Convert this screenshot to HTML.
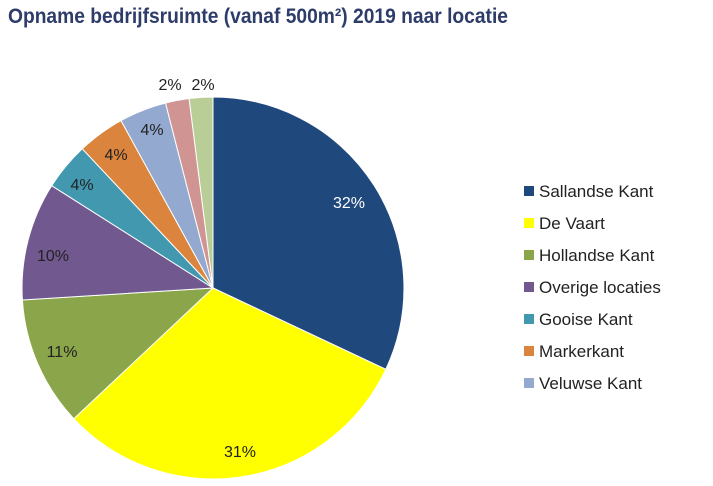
<!DOCTYPE html>
<html><head><meta charset="utf-8"><style>
html,body{margin:0;padding:0;background:#fff;}
svg{display:block;}
</style></head><body>
<svg width="713" height="486" xmlns="http://www.w3.org/2000/svg" font-family="Liberation Sans, sans-serif">
<text x="8" y="23" font-size="21" font-weight="bold" fill="#2E3C6A" textLength="500" lengthAdjust="spacingAndGlyphs">Opname bedrijfsruimte (vanaf 500m²) 2019 naar locatie</text>
<g stroke="#fff" stroke-width="1">
<path d="M213,288 L213,97 A191,191 0 0 1 385.8,369.3 Z" fill="#1F497D"/>
<path d="M213,288 L385.8,369.3 A191,191 0 0 1 73.8,418.7 Z" fill="#FFFF00"/>
<path d="M213,288 L73.8,418.7 A191,191 0 0 1 22.4,300.0 Z" fill="#8BA54A"/>
<path d="M213,288 L22.4,300.0 A191,191 0 0 1 51.7,185.7 Z" fill="#71588F"/>
<path d="M213,288 L51.7,185.7 A191,191 0 0 1 82.3,148.8 Z" fill="#4198AF"/>
<path d="M213,288 L82.3,148.8 A191,191 0 0 1 121.0,120.6 Z" fill="#DB843D"/>
<path d="M213,288 L121.0,120.6 A191,191 0 0 1 165.5,103.0 Z" fill="#93A9CF"/>
<path d="M213,288 L165.5,103.0 A191,191 0 0 1 189.1,98.5 Z" fill="#D09493"/>
<path d="M213,288 L189.1,98.5 A191,191 0 0 1 213,97 Z" fill="#B9CD96"/>
</g>
<g font-size="16" fill="#222" text-anchor="middle">
<text x="349" y="208" fill="#fff">32%</text>
<text x="240" y="457">31%</text>
<text x="62" y="357">11%</text>
<text x="53" y="261">10%</text>
<text x="82" y="190">4%</text>
<text x="116" y="160">4%</text>
<text x="152" y="135">4%</text>
<text x="170" y="90">2%</text>
<text x="203" y="90">2%</text>
</g>
<g font-size="17" fill="#222">
<rect x="524" y="186" width="10" height="10" fill="#1F497D"/><text x="539" y="197">Sallandse Kant</text>
<rect x="524" y="218" width="10" height="10" fill="#FFFF00"/><text x="539" y="229">De Vaart</text>
<rect x="524" y="250" width="10" height="10" fill="#8BA54A"/><text x="539" y="261">Hollandse Kant</text>
<rect x="524" y="282" width="10" height="10" fill="#71588F"/><text x="539" y="293">Overige locaties</text>
<rect x="524" y="314" width="10" height="10" fill="#4198AF"/><text x="539" y="325">Gooise Kant</text>
<rect x="524" y="346" width="10" height="10" fill="#DB843D"/><text x="539" y="357">Markerkant</text>
<rect x="524" y="378" width="10" height="10" fill="#93A9CF"/><text x="539" y="389">Veluwse Kant</text>
</g>
</svg>
</body></html>
